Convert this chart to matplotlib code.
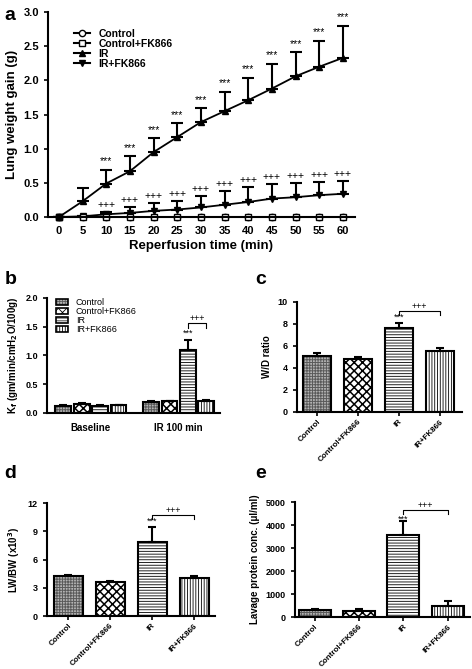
import matplotlib.pyplot as plt
from matplotlib.patches import Patch
from matplotlib.lines import Line2D

plt.rcParams['font.family'] = ['Liberation Sans', 'DejaVu Sans']
plt.rcParams['font.weight'] = 'bold'
plt.rcParams['axes.labelweight'] = 'bold'
plt.rcParams['hatch.linewidth'] = 0.6

# panel a - lung weight gain
tempo = [0, 5, 10, 15, 20, 25, 30, 35, 40, 45, 50, 55, 60]
controle = [0] * 13
controle_fk = [0] * 13
ir = [0, 0.23, 0.49, 0.67, 0.95, 1.17, 1.39, 1.55, 1.71, 1.88, 2.06, 2.20, 2.33]
ir_err = [0, 0.19, 0.20, 0.22, 0.20, 0.20, 0.20, 0.28, 0.33, 0.36, 0.35, 0.38, 0.47]
ir_fk = [0, 0.01, 0.04, 0.06, 0.09, 0.11, 0.14, 0.18, 0.22, 0.27, 0.29, 0.32, 0.34]
ir_fk_err = [0, 0.01, 0.04, 0.09, 0.11, 0.13, 0.17, 0.20, 0.22, 0.21, 0.21, 0.19, 0.18]

grupos = ['Control', 'Control+FK866', 'IR', 'IR+FK866']

# panel b - Kf
kf_base = [0.12, 0.15, 0.12, 0.13]
kf_base_err = [0.01, 0.015, 0.01, 0.01]
kf_ir100 = [0.19, 0.20, 1.10, 0.21]
kf_ir100_err = [0.01, 0.01, 0.17, 0.01]

# panel c - W/D
wd = [5.1, 4.85, 7.6, 5.55]
wd_err = [0.3, 0.15, 0.5, 0.25]

# panel d - LW/BW
lwbw = [4.3, 3.65, 7.9, 4.0]
lwbw_err = [0.1, 0.12, 1.6, 0.25]

# panel e - lavage protein
lav = [320, 270, 3560, 480]
lav_err = [50, 60, 600, 200]

# (hatch, cor do hatch, cor de fundo, espessura do hatch)
estilos = [('++++++', '#5a5a5a', '#b4b4b4', 0.7),
           ('xxxx', 'black', 'white', 1.1),
           ('------', '#222222', 'white', 0.7),
           ('||||||', 'black', 'white', 0.6)]


def barras(ax, xs, vals, errs, w, estilo):
    hatch, hc, fc, hlw = estilo
    with plt.rc_context({'hatch.linewidth': hlw}):
        ax.bar(xs, vals, w, color=fc, edgecolor=hc, hatch=hatch, linewidth=0)
    ax.bar(xs, vals, w, fill=False, edgecolor='black', linewidth=1.5)
    ax.errorbar(xs, vals, yerr=[[0] * len(vals), errs], fmt='none', ecolor='black',
                elinewidth=1.5, capsize=3, capthick=1.5)


def estilo_eixo(ax):
    ax.spines['top'].set_visible(False)
    ax.spines['right'].set_visible(False)
    ax.spines['left'].set_linewidth(1.5)
    ax.spines['bottom'].set_linewidth(1.5)
    ax.tick_params(width=1.2, length=3, labelsize=6.5)


def colchete(ax, x1, x2, y, d, txt, fs=6.5):
    ax.plot([x1, x1, x2, x2], [y - d, y, y, y - d], color='black', lw=0.8)
    ax.text((x1 + x2) / 2, y, txt, ha='center', va='bottom', fontsize=fs, fontweight='normal')


def rotulos(ax):
    ax.set_xticks([0, 1, 2, 3])
    ax.set_xticklabels(grupos, rotation=45, ha='right', rotation_mode='anchor')
    ax.tick_params(axis='x', labelsize=5.8, pad=1.5)


fig = plt.figure(figsize=(4.72, 6.69), dpi=100)

# ---- a
ax = fig.add_axes([0.1017, 0.6756, 0.650, 0.3064])
estilo_eixo(ax)
ax.tick_params(labelsize=8)
ax.errorbar(tempo, ir, yerr=[[0] * 13, ir_err], fmt='none', ecolor='black', elinewidth=1.5,
            capsize=4, capthick=1.5)
ax.errorbar(tempo, ir_fk, yerr=[[0] * 13, ir_fk_err], fmt='none', ecolor='black', elinewidth=1.5,
            capsize=4, capthick=1.5)
ax.plot(tempo, controle, '-o', color='black', mfc='white', ms=4.5, lw=1.3, clip_on=False, label='Control')
ax.plot(tempo, ir, '-^', color='black', ms=4.5, lw=1.3, clip_on=False, label='IR')
ax.plot(tempo, ir_fk, '-v', color='black', ms=4.5, lw=1.3, clip_on=False, label='IR+FK866')
ax.plot(tempo, controle_fk, '-s', color='black', mfc='white', ms=4.5, lw=1.3, clip_on=False,
        label='Control+FK866')
ax.plot([0], [0], 's', color='black', ms=4.5, clip_on=False)
for t, m, e in zip(tempo[2:], ir[2:], ir_err[2:]):
    ax.text(t, m + e + 0.05, '***', ha='center', va='bottom', fontsize=7.5, fontweight='normal')
for t, m, e in zip(tempo[2:], ir_fk[2:], ir_fk_err[2:]):
    ax.text(t, m + e + 0.03, '+++', ha='center', va='bottom', fontsize=7.5, fontweight='normal')
ax.set_xlim(-2.3, 62.5)
ax.set_ylim(0, 3.0)
ax.set_xticks(tempo)
ax.set_yticks([0, 0.5, 1.0, 1.5, 2.0, 2.5, 3.0])
ax.set_yticklabels(['0.0', '0.5', '1.0', '1.5', '2.0', '2.5', '3.0'])
ax.set_xlabel('Reperfusion time (min)', fontsize=9.5, labelpad=3)
ax.set_ylabel('Lung weight gain (g)', fontsize=9.5)
hs = [Line2D([], [], color='black', marker='o', mfc='white', ms=4.5),
      Line2D([], [], color='black', marker='s', mfc='white', ms=4.5),
      Line2D([], [], color='black', marker='^', ms=4.5),
      Line2D([], [], color='black', marker='v', ms=4.5)]
ax.legend(hs, grupos, loc='upper left', bbox_to_anchor=(0.07, 0.94), frameon=False, fontsize=7.5,
          handlelength=1.6, labelspacing=0.0, borderaxespad=0)
fig.text(0.01, 0.99, 'a', fontsize=14, fontweight='bold', va='top')

# ---- b
ax = fig.add_axes([0.0996, 0.3827, 0.3665, 0.1719])
estilo_eixo(ax)
passo = 0.21
for i in range(4):
    off = (i - 1.5) * passo
    barras(ax, [0 + off, 1 + off], [kf_base[i], kf_ir100[i]], [kf_base_err[i], kf_ir100_err[i]],
           0.18, estilos[i])
ax.set_xlim(-0.5, 1.47)
ax.set_ylim(0, 2.0)
ax.set_yticks([0, 0.5, 1.0, 1.5, 2.0])
ax.set_yticklabels(['0.0', '0.5', '1.0', '1.5', '2.0'])
ax.set_xticks([0, 1])
ax.set_xticklabels(['Baseline', 'IR 100 min'])
ax.tick_params(axis='x', length=0, labelsize=7, pad=7)
ax.set_ylabel('K$_\\mathbf{f}$ (gm/min/cmH$_\\mathbf{2}$O/100g)', fontsize=7)
ax.text(1 + 0.5 * passo, kf_ir100[2] + kf_ir100_err[2] + 0.03, '***', ha='center', va='bottom',
        fontsize=6.5, fontweight='normal')
colchete(ax, 1 + 0.5 * passo, 1 + 1.5 * passo, 1.56, 0.08, '+++')
hs = []
for h, hc, fc, hlw in estilos:
    with plt.rc_context({'hatch.linewidth': hlw}):
        p1 = Patch(facecolor=fc, edgecolor=hc, hatch=h, lw=0)
    hs.append((p1, Patch(fill=False, edgecolor='black', lw=1.2)))
ax.legend(hs, grupos, loc='upper left', bbox_to_anchor=(0.03, 1.03), frameon=False,
          handlelength=1.4, handleheight=0.7, labelspacing=0.0, borderaxespad=0,
          prop={'weight': 'normal', 'size': 6.5})
fig.text(0.01, 0.595, 'b', fontsize=14, fontweight='bold', va='top')

xs = [0, 1, 2, 3]

# ---- c
ax = fig.add_axes([0.629, 0.3842, 0.350, 0.1644])
estilo_eixo(ax)
for i in range(4):
    barras(ax, [xs[i]], [wd[i]], [wd_err[i]], 0.68, estilos[i])
ax.set_xlim(-0.49, 3.54)
ax.set_ylim(0, 10)
ax.set_yticks([0, 2, 4, 6, 8, 10])
rotulos(ax)
ax.set_ylabel('W/D ratio', fontsize=7)
ax.text(2, wd[2] + wd_err[2] + 0.1, '***', ha='center', va='bottom', fontsize=6.5, fontweight='normal')
colchete(ax, 2, 3, 9.15, 0.35, '+++')
fig.text(0.54, 0.595, 'c', fontsize=14, fontweight='bold', va='top')

# ---- d
ax = fig.add_axes([0.0996, 0.0792, 0.356, 0.1689])
estilo_eixo(ax)
for i in range(4):
    barras(ax, [xs[i]], [lwbw[i]], [lwbw_err[i]], 0.69, estilos[i])
ax.set_xlim(-0.5, 3.5)
ax.set_ylim(0, 12)
ax.set_yticks([0, 3, 6, 9, 12])
rotulos(ax)
ax.set_ylabel('LW/BW (x10$^\\mathbf{3}$)', fontsize=7)
ax.text(2, lwbw[2] + lwbw_err[2] + 0.1, '***', ha='center', va='bottom', fontsize=6.5, fontweight='normal')
colchete(ax, 2, 3, 10.75, 0.4, '+++')
fig.text(0.01, 0.305, 'd', fontsize=14, fontweight='bold', va='top')

# ---- e
ax = fig.add_axes([0.625, 0.0777, 0.371, 0.1719])
estilo_eixo(ax)
for i in range(4):
    barras(ax, [xs[i]], [lav[i]], [lav_err[i]], 0.72, estilos[i])
ax.set_xlim(-0.44, 3.5)
ax.set_ylim(0, 5000)
ax.set_yticks([0, 1000, 2000, 3000, 4000, 5000])
rotulos(ax)
ax.set_ylabel('Lavage protein conc. (μl/ml)', fontsize=7)
ax.text(2, 4050, '***', ha='center', va='bottom', fontsize=6.5, fontweight='normal')
colchete(ax, 2, 3, 4640, 180, '+++')
fig.text(0.54, 0.305, 'e', fontsize=14, fontweight='bold', va='top')

fig.savefig('out.png', dpi=100)
